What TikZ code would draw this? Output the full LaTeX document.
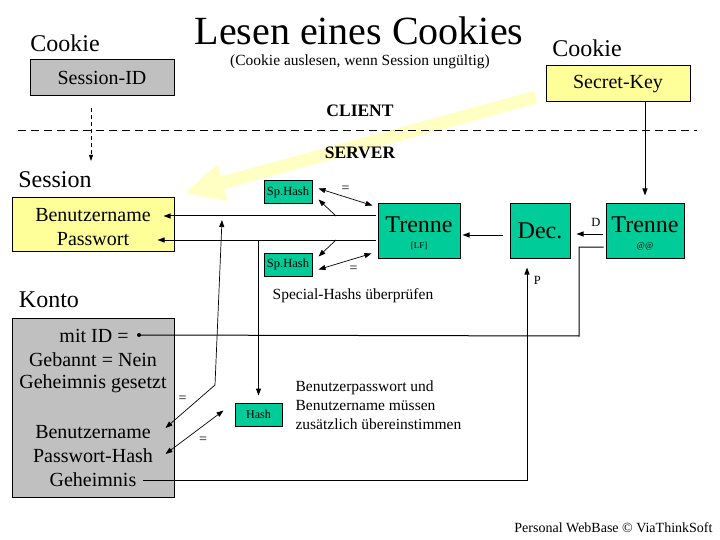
\documentclass[tikz,border=0pt]{standalone}
\usepackage{fontspec}
\setmainfont{Liberation Serif}
\usetikzlibrary{arrows.meta, calc}
\definecolor{kontograu}{RGB}{192,192,192}
\definecolor{sessiongelb}{RGB}{255,255,153}
\definecolor{hashgruen}{RGB}{0,204,153}
\definecolor{hinweisgelb}{RGB}{255,255,196}
\tikzset{
    kasten/.style={
           rectangle,
           draw=black, line width=1pt,
           inner sep=0pt,
           text centered,
           },
    gruen/.style={kasten, fill=hashgruen},
    pfeil/.style={-{Triangle[length=7pt,width=5pt]}, line width=1pt},
    dpfeil/.style={{Triangle[length=7pt,width=5pt]}-{Triangle[length=7pt,width=5pt]}, line width=0.7pt},
    gross/.style={font=\fontsize{24}{24}\selectfont},
    zeile/.style={font=\fontsize{20}{24}\selectfont},
    klein/.style={font=\fontsize{15.5}{19}\selectfont},
    mini/.style={font=\fontsize{12.5}{14}\selectfont},
    winzig/.style={font=\fontsize{9}{9}\selectfont},
}
\newcommand{\gleich}{\fontsize{14}{14}\selectfont =}

\begin{document}
\begin{tikzpicture}[x=1pt, y=-1pt]
      \useasboundingbox (0,0) rectangle (720,540);
      % heller Pfeil im Hintergrund
      \coordinate (gA) at (536,97);
      \coordinate (gB) at (185,193);
      \draw[hinweisgelb, line width=13pt, -{Triangle[length=39pt,width=38pt,line width=0pt]}] (gA) -- (gB);

      \node[font=\fontsize{40}{40}\selectfont] (titel) at (359,31) {Lesen eines Cookies};
      \node[klein]                (untertitel) at (360,62) {(Cookie auslesen, wenn Session ungültig)};
      \node[gross]                (ck1) at ( 65, 43) {Cookie};
      \node[gross]                (ck2) at (587, 48) {Cookie};
      \node[font=\bfseries\fontsize{17.5}{18}\selectfont] (client) at (360,111) {CLIENT};
      \node[font=\bfseries\fontsize{17.5}{18}\selectfont] (server) at (360,153) {SERVER};
      \coordinate (tl) at ( 18,131);
      \coordinate (tr) at (697,131);
      \draw[dash pattern=on 8pt off 5pt, line width=1pt] (tl) -- (tr);

      \node[kasten, fill=kontograu, zeile, minimum width=144pt, minimum height=36pt] (sid) at (102, 78) {Session-ID};
      \node[kasten, fill=sessiongelb, zeile, minimum width=144pt, minimum height=36pt] (key) at (618, 84) {Secret-Key};

      \node[gross] (lsess) at (55,180) {Session};
      \node[kasten, fill=sessiongelb, minimum width=162pt, minimum height=53pt] (sess) at (93,224.5) {};
      \node[zeile] (sbn) at (93,215) {Benutzername};
      \node[zeile] (spw) at (93,239) {Passwort};

      \node[gross] (lkonto) at (49,300) {Konto};
      \node[kasten, fill=kontograu, minimum width=162pt, minimum height=179pt] (konto) at (93,407.5) {};
      \node[zeile] (kid) at (94,336) {mit ID =};
      \node[zeile] (kgb) at (93,360) {Gebannt = Nein};
      \node[zeile] (kgs) at (93,384) {Geheimnis gesetzt};
      \node[zeile] (kbn) at (93,432) {Benutzername};
      \node[zeile] (kph) at (93,456) {Passwort-Hash};
      \node[zeile] (kgh) at (93,480) {Geheimnis};
      \coordinate (kdot) at (139,335);
      \fill (kdot) circle (2pt);

      \node[gruen, mini, minimum width=48pt, minimum height=23pt] (sph1) at (288,192.5) {Sp.Hash};
      \node[gruen, mini, minimum width=48pt, minimum height=23pt] (sph2) at (288,264.5) {Sp.Hash};
      \node[gruen, minimum width=82pt, minimum height=54pt] (lf)  at (419,231) {};
      \node[gruen, gross, minimum width=60pt, minimum height=54pt] (dec) at (540,231) {Dec.};
      \node[gruen, minimum width=78pt, minimum height=54pt] (at)  at (645,231) {};
      \node[gross]  (lft) at ($(lf)+(0,-6)$) {Trenne};
      \node[winzig] (lfs) at ($(lf)+(0,15)$) {[LF]};
      \node[gross]  (att) at ($(at)+(0,-6)$) {Trenne};
      \node[winzig] (ats) at ($(at)+(0,15)$) {@@};
      \node[gruen, font=\fontsize{12}{12}\selectfont, minimum width=47pt, minimum height=23pt] (hash) at (258.5,414.5) {Hash};

      \node[klein] (sptext) at (353,296) {Special-Hashs überprüfen};
      \node[klein, anchor=west, align=left] (hinweis) at (292,405) {Benutzerpasswort und\\Benutzername müssen\\zusätzlich übereinstimmen};
      \node[font=\fontsize{14}{14}\selectfont, anchor=east] (fuss) at (716,528) {Personal WebBase © ViaThinkSoft};

      \coordinate (sidz) at (91,161);
      \draw[-{Triangle[length=6pt,width=4pt]}, dash pattern=on 4pt off 3pt, line width=0.8pt] ($(sid.south)+(-11,12)$) -- (sidz);
      \draw[pfeil, shorten >=8pt] (key.south -| at) -- (at.north);
      \draw[pfeil] ($(at.west)+(-3,3)$) -- node[pos=0.25, above=4pt, mini]{D} ($(dec.east)+(6,3)$);
      \draw[pfeil] ($(dec.west)+(-7,4)$) -- ($(lf.east)+(2,4)$);
      \draw[pfeil] ($(lf.west |- sbn)+(-2,1)$) -- ($(sess.east |- sbn)+(-11,1)$);
      \draw[pfeil] ($(lf.west |- spw)+(-2,1)$) -- ($(sess.east |- spw)+(-17,1)$);

      \coordinate (g1) at (336,216);
      \coordinate (g2) at (336,240);
      \draw[pfeil, line width=0.7pt] (g1) -- ($(sph1.south east)+(6,-5)$);
      \draw[pfeil, line width=0.7pt] (g2) -- ($(sph2.north east)+(6,4)$);
      \draw[dpfeil] ($(sph1.east)+(6,-4)$) -- node[above=1pt]{\gleich} ($(lf.north west)+(-5,2)$);
      \draw[dpfeil] ($(sph2.east)+(6,5)$) -- node[below right=1pt]{\gleich} ($(lf.south west)+(-6,-5)$);

      \draw[pfeil, shorten >=7pt] ($(hash |- spw)+(0,1)$) -- (hash.north);
      \coordinate (k1) at (215,385);
      \coordinate (k2) at (222,220);
      \draw[dpfeil] ($(konto.east |- kbn)+(-9,-4)$) -- node[above left=0pt]{\gleich} (k1) -- (k2);
      \draw[dpfeil] ($(konto.east |- kph)+(-9,-2)$) -- node[below right=1pt]{\gleich} ($(hash.west)+(-11,-4)$);

      \coordinate (e1) at (579,336);
      \draw[line width=1pt] ($(at.west)+(-2,16)$) -| (e1) -- (kdot);
      \draw[pfeil] ($(kgh.east)+(3,0)$) -| node[pos=0.97, right=3pt, mini]{P} ($(dec.south)+(-13,9)$);
\end{tikzpicture}
\end{document}
